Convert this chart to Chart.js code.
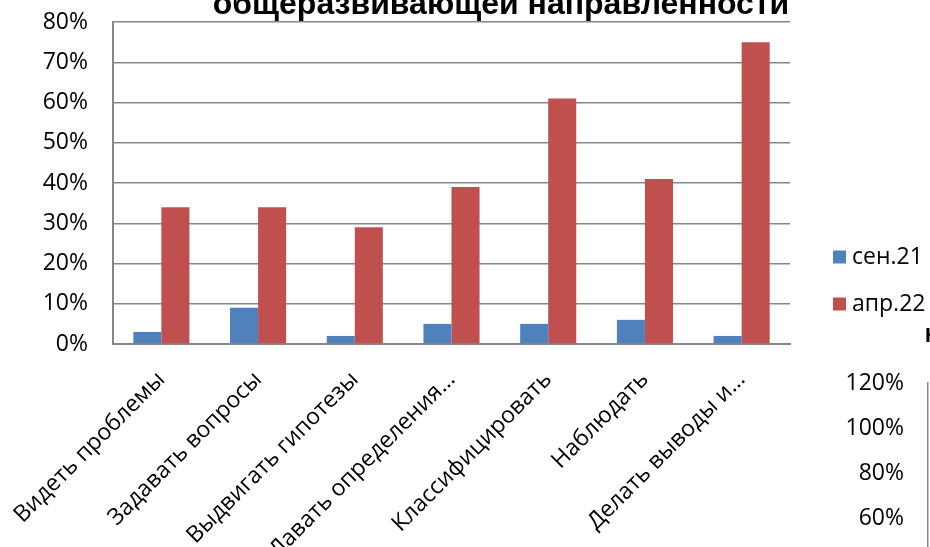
<!DOCTYPE html>
<html>
<head>
<meta charset="utf-8">
<script src="https://cdn.jsdelivr.net/npm/chart.js@4/dist/chart.umd.min.js"></script>
<style>
  html, body { margin: 0; padding: 0; background: #fff; width: 930px; height: 547px; overflow: hidden; position: relative; }
  #main { position: absolute; left: 0; top: 0; }
  #side { position: absolute; left: 830px; top: 360px; }
  #frag { position: absolute; left: 925px; top: 324px; font: bold 21px "Liberation Sans", Arial, sans-serif; color: #000; line-height: 1; }
</style>
</head>
<body>
<canvas id="main" width="930" height="547"></canvas>
<canvas id="side" width="200" height="293"></canvas>
<div id="frag">Н</div>
<script>
// ---- data ----
const titleText = 'общеразвивающей направленности';
const categories = ['Видеть проблемы', 'Задавать вопросы', 'Выдвигать гипотезы', 'Давать определения…', 'Классифицировать', 'Наблюдать', 'Делать выводы и…'];
const seriesNames = ['сен.21', 'апр.22'];
const sep21 = [3, 9, 2, 5, 5, 6, 2];
const apr22 = [34, 34, 29, 39, 61, 41, 75];
const yTickMax = 80;
const yTickStep = 10;
// fragment of a neighbouring chart (cut off at the right/bottom edge)
const sideTickMax = 120;
const sideTickStep = 20;

const FONT = '"Open Sans", "Noto Sans", sans-serif';
const GRID = '#878787';

const titlePlugin = {
  id: 'cutTitle',
  afterDraw(chart) {
    const ctx = chart.ctx;
    ctx.save();
    ctx.font = 'bold 32px "Liberation Sans", Arial, sans-serif';
    ctx.fillStyle = '#000';
    ctx.textAlign = 'center';
    ctx.textBaseline = 'alphabetic';
    ctx.fillText(titleText, 501, 14);
    ctx.restore();
  }
};

const legendPlugin = {
  id: 'sideLegend',
  afterDraw(chart) {
    const ctx = chart.ctx;
    ctx.save();
    ctx.font = '23px ' + FONT;
    ctx.textBaseline = 'middle';
    ctx.textAlign = 'left';
    chart.data.datasets.forEach((ds, i) => {
      const cy = 257 + i * 47;
      ctx.fillStyle = ds.backgroundColor;
      ctx.fillRect(833, cy - 6.5, 13, 13);
      ctx.fillStyle = '#000';
      ctx.fillText(ds.label, 852, cy);
    });
    ctx.restore();
  }
};

new Chart(document.getElementById('main'), {
  type: 'bar',
  data: {
    labels: categories,
    datasets: [
      { label: seriesNames[0], data: sep21, backgroundColor: '#4F81BD', borderWidth: 0, categoryPercentage: 0.58, barPercentage: 1.0 },
      { label: seriesNames[1], data: apr22, backgroundColor: '#C0504D', borderWidth: 0, categoryPercentage: 0.58, barPercentage: 1.0 }
    ]
  },
  options: {
    responsive: false,
    animation: false,
    events: [],
    layout: { padding: { top: 22, right: 140, left: 0, bottom: 0 } },
    plugins: { legend: { display: false }, title: { display: false }, tooltip: { enabled: false } },
    scales: {
      x: {
        grid: { display: false, drawTicks: false },
        border: { display: true, color: GRID, width: 2 },
        ticks: {
          autoSkip: false, minRotation: 45, maxRotation: 45, padding: 22,
          color: '#000', font: { family: FONT, size: 23 }
        },
        afterFit(s) { s.height = 203; s.paddingLeft = 0; s.paddingRight = 0; }
      },
      y: {
        min: 0, max: yTickMax,
        grid: { color: GRID, lineWidth: 1.5, drawTicks: false },
        border: { display: true, color: GRID, width: 2 },
        ticks: {
          stepSize: yTickStep, padding: 25, color: '#000',
          font: { family: FONT, size: 23 },
          callback: v => v + '%'
        },
        afterFit(s) { s.width = 113; s.paddingTop = 0; s.paddingBottom = 0; }
      }
    }
  },
  plugins: [titlePlugin, legendPlugin]
});

new Chart(document.getElementById('side'), {
  type: 'bar',
  data: { labels: [''], datasets: [{ data: [], backgroundColor: '#4F81BD' }] },
  options: {
    responsive: false,
    animation: false,
    events: [],
    layout: { padding: { top: 23, bottom: 0, left: 0, right: 0 } },
    plugins: { legend: { display: false }, tooltip: { enabled: false } },
    scales: {
      x: { display: false },
      y: {
        min: 0, max: sideTickMax,
        grid: { display: false, drawTicks: false },
        border: { display: true, color: GRID, width: 1.5 },
        ticks: {
          stepSize: sideTickStep, padding: 24, color: '#000',
          font: { family: FONT, size: 23 },
          callback: v => v + '%'
        },
        afterFit(s) { s.width = 98; s.paddingTop = 0; s.paddingBottom = 0; }
      }
    }
  }
});
</script>
</body>
</html>
